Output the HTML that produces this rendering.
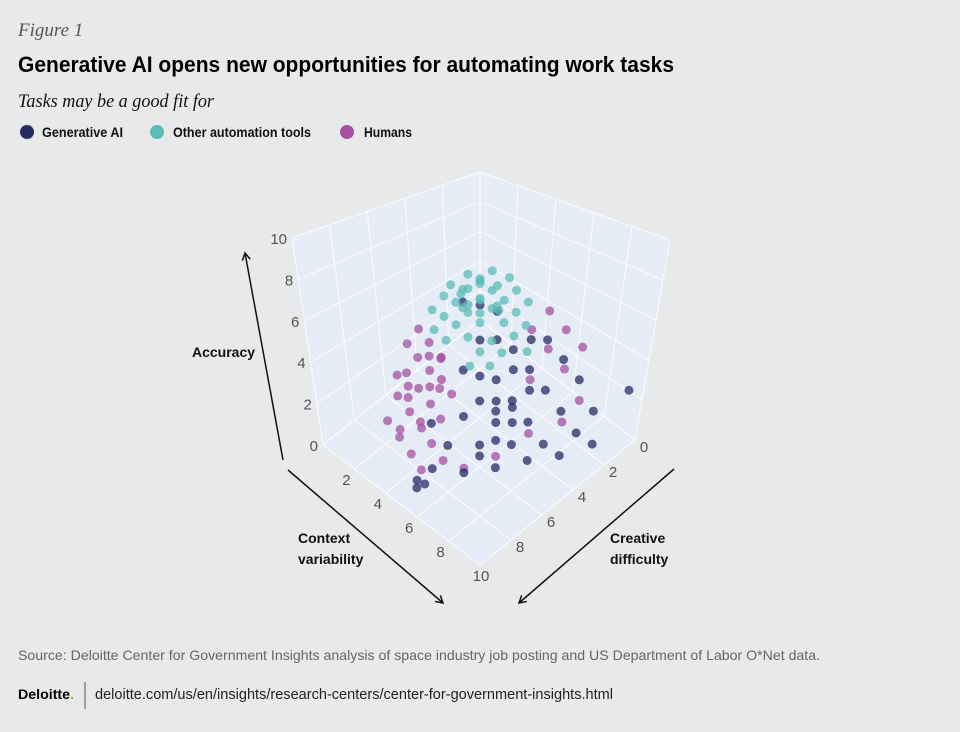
<!DOCTYPE html>
<html><head><meta charset="utf-8"><style>
html,body{margin:0;padding:0;background:#e8e9eb;}
svg{display:block;font-family:"Liberation Sans",sans-serif;}
</style></head><body>
<svg id="chart" width="960" height="732" viewBox="0 0 960 732" xmlns="http://www.w3.org/2000/svg">
<rect width="960" height="732" fill="#e8e9eb"/>
<text x="18" y="36" font-family="Liberation Serif,serif" font-style="italic" font-size="19" fill="#555">Figure 1</text>
<text x="18" y="72" font-weight="bold" font-size="22" fill="#000" textLength="656" lengthAdjust="spacingAndGlyphs">Generative AI opens new opportunities for automating work tasks</text>
<text x="18" y="107" font-family="Liberation Serif,serif" font-style="italic" font-size="19" fill="#111" textLength="196" lengthAdjust="spacingAndGlyphs">Tasks may be a good fit for</text>
<g>
<g><circle cx="27" cy="132" r="7" fill="#262b64"/><text x="42" y="137" font-weight="bold" font-size="13.5" fill="#111" textLength="81" lengthAdjust="spacingAndGlyphs">Generative AI</text></g>
<g><circle cx="157" cy="132" r="7" fill="#5bbcb7"/><text x="173" y="137" font-weight="bold" font-size="13.5" fill="#111" textLength="138" lengthAdjust="spacingAndGlyphs">Other automation tools</text></g>
<g><circle cx="347" cy="132" r="7" fill="#a351a0"/><text x="364" y="137" font-weight="bold" font-size="13.5" fill="#111" textLength="48" lengthAdjust="spacingAndGlyphs">Humans</text></g>
</g>
<g id="plot"></g>
<defs><marker id="ah" markerWidth="10" markerHeight="10" refX="8" refY="5" orient="auto" markerUnits="userSpaceOnUse"><path d="M1,1 L8,5 L1,9" fill="none" stroke="#111" stroke-width="1.5"/></marker></defs>
<line x1="283" y1="460" x2="245" y2="253" stroke="#111" stroke-width="1.5" marker-end="url(#ah)"/>
<line x1="288" y1="470" x2="443" y2="603" stroke="#111" stroke-width="1.5" marker-end="url(#ah)"/>
<line x1="674" y1="469" x2="519" y2="603" stroke="#111" stroke-width="1.5" marker-end="url(#ah)"/>
<text x="192" y="357" font-weight="bold" font-size="14" fill="#111">Accuracy</text>
<text font-weight="bold" font-size="14" fill="#111"><tspan x="298" y="543">Context</tspan><tspan x="298" y="564">variability</tspan></text>
<text font-weight="bold" font-size="14" fill="#111"><tspan x="610" y="543">Creative</tspan><tspan x="610" y="564">difficulty</tspan></text>
<text x="18" y="660" font-size="14" fill="#666" textLength="802" lengthAdjust="spacingAndGlyphs">Source: Deloitte Center for Government Insights analysis of space industry job posting and US Department of Labor O*Net data.</text>
<text x="18" y="699" font-weight="bold" font-size="14" fill="#000" textLength="56" lengthAdjust="spacingAndGlyphs">Deloitte<tspan fill="#86bc25">.</tspan></text>
<line x1="85" y1="682" x2="85" y2="709" stroke="#555" stroke-width="1"/>
<text x="95" y="699" font-size="14.5" fill="#222" textLength="518" lengthAdjust="spacingAndGlyphs">deloitte.com/us/en/insights/research-centers/center-for-government-insights.html</text>
</svg>
<script>
// data: [context variability, creative difficulty, accuracy]
const ticks = [0,2,4,6,8,10];
const tickLabels = ["0","2","4","6","8","10"];
const otherAutomation = [[3,3,5.2],[2.3,3,5.4],[3,2.3,5.3],[3.7,3,5.0],[3,3.7,4.8],[2.3,2.3,5.6],[2,3,5.2],[3,2,5.4],[3.7,2.3,5.1],[2.3,3.7,5.0],[4.4,3,4.6],[3,4.4,4.5],[3.7,3.7,4.6],[1.6,2.3,5.5],[2.3,1.6,5.7],[4.4,2.3,4.8],[2.3,4.4,4.6],[5,3,4.2],[3.7,4.4,4.2],[4.4,3.7,4.0],[1.6,3.7,5.0],[3.7,1.6,5.3],[3,3,4.4],[2.6,2.6,5.8],[3.4,3.4,5.5],[5,2.3,4.4],[1.6,4.4,4.6],[4.4,4.4,3.8],[5,3.7,3.7],[3,5,4.0],[2.3,3,4.5],[3.7,2.6,4.7],[1.3,3,5.1],[3,1.3,5.5],[4.4,1.6,5.0],[2,2,5.0],[5.8,3,3.8],[4,3,5.3],[3,4,5.2],[2.6,3.7,5.6],[5,4.4,3.4],[4.4,5,3.4],[2.3,5,4.2]];
const humans = [[3.3,6.3,3.3],[2.6,6.3,3.6],[3.3,7,2.8],[4,7,2.4],[2.6,7,3.2],[3.3,7.6,2],[4,7.6,1.6],[2.6,7.6,2.4],[4.6,7,2],[3.3,6.3,4],[2.6,5.6,4],[2,6.3,4],[4,6.3,3.2],[3.3,7,1.2],[4,8.3,0.8],[4.6,7.6,1.2],[2.6,7,2],[3.3,8.3,1.2],[2,7,2.8],[2.6,8.3,1.6],[4,7,3.2],[4.6,6.3,2.8],[3.3,5.6,3.6],[2,5.6,4.4],[2.6,7.6,0.8],[4.6,8.3,0.4],[5.3,7.6,0.8],[4,6.3,4.2],[3.3,7.6,3.2],[4.6,7,3.4],[7,2,5],[8,3,4],[7,3,4.5],[6,2,5.5],[8,2,4.6],[7,4,3.5],[9,4,2.5],[8,5,2],[6,3,5],[9,3,3],[7,6,1],[6,7,0.5]];
const generativeAI = [[6,4,2],[6,5,1.5],[7,4,1.5],[5,4,2.5],[6,3,3],[7,5,1],[5,5,2],[6,6,1],[7,3,2.5],[8,4,1],[5,3,3.5],[4,4,4],[5,4,4.5],[6,3,4.5],[4,3,5],[7,2,3.5],[8,3,2],[9,3,1.5],[9,4,1],[8,5,0.8],[6,6,0.5],[5,7,1],[6,7,0.3],[4,7,1.5],[5,6,1.8],[7,6,0.5],[6,4,3.5],[5,5,3.2],[7,4,3],[4,5,3],[3,4,5.5],[4,4,5.8],[6,2,4],[8,2,3],[10,3,1.5],[9,2,2],[10,1,3],[5,8,0.5],[5,9,0.2],[4.5,8.5,0],[5,8.5,0.1],[6,5,2.5],[7,5,2],[6.5,4.5,2.2],[5.5,4.5,1.5],[6.5,5.5,1.2]];

const NS="http://www.w3.org/2000/svg";
const C={b0:[480,320],l0:[323,445],r0:[635,440],f0:[480,565],b1:[480,172],l1:[292,238],r1:[670,240],f1:[480,290]};
function proj(cv,cd,acc){
  const u=cv/10,v=cd/10,w=acc/10;
  const bl=(k)=>[(1-u)*(1-v)*C['b'+k][0]+(1-u)*v*C['l'+k][0]+u*(1-v)*C['r'+k][0]+u*v*C['f'+k][0],
                 (1-u)*(1-v)*C['b'+k][1]+(1-u)*v*C['l'+k][1]+u*(1-v)*C['r'+k][1]+u*v*C['f'+k][1]];
  const a=bl(0),b=bl(1);
  return [a[0]*(1-w)+b[0]*w,a[1]*(1-w)+b[1]*w];
}
const plot=document.getElementById('plot');
function poly(pts,fill,name){
  const p=document.createElementNS(NS,'polygon');
  p.setAttribute('points',pts.map(q=>q.join(',')).join(' '));
  p.setAttribute('fill',fill);
  
  
  plot.appendChild(p);
}
function line(a,b,name){
  const l=document.createElementNS(NS,'line');
  l.setAttribute('x1',a[0]);l.setAttribute('y1',a[1]);l.setAttribute('x2',b[0]);l.setAttribute('y2',b[1]);
  l.setAttribute('stroke','#ffffff');l.setAttribute('stroke-width','1');l.setAttribute('stroke-opacity','0.8');
  
  
  plot.appendChild(l);
}
poly([proj(0,0,0),proj(0,10,0),proj(0,10,10),proj(0,0,10)],'#e5ecf6','left-wall');
poly([proj(0,0,0),proj(10,0,0),proj(10,0,10),proj(0,0,10)],'#e5ecf6','right-wall');
poly([proj(0,0,0),proj(0,10,0),proj(10,10,0),proj(10,0,0)],'#e5ecf6','floor');
ticks.forEach(t=>{
  line(proj(0,t,0),proj(0,t,10),'gridline');
  line(proj(0,0,t),proj(0,10,t),'gridline');
  line(proj(t,0,0),proj(t,0,10),'gridline');
  line(proj(0,0,t),proj(10,0,t),'gridline');
  line(proj(t,0,0),proj(t,10,0),'gridline');
  line(proj(0,t,0),proj(10,t,0),'gridline');
});
function label(p,txt,name,anchor){
  const t=document.createElementNS(NS,'text');
  t.setAttribute('x',p[0]);t.setAttribute('y',p[1]);
  t.setAttribute('font-size','15');t.setAttribute('fill','#555');
  t.setAttribute('text-anchor',anchor||'middle');
  t.textContent=txt;
  
  
  plot.appendChild(t);
}
ticks.forEach((t,i)=>{
  const a=proj(0,10,t); label([a[0]-5,a[1]+6],tickLabels[i],'accuracy-tick','end');
  if(t>0){const c=proj(t,10,0); label([c[0]-8+(t===10?9:0),c[1]+16],tickLabels[i],'context-variability-tick');}
  if(t<10){const d=proj(10,t,0); label([d[0]+9,d[1]+12],tickLabels[i],'creative-difficulty-tick');}
});
function series(data,color,name){
  const g=document.createElementNS(NS,'g');
  
  
  data.forEach(d=>{
    const p=proj(d[0],d[1],d[2]);
    const c=document.createElementNS(NS,'circle');
    c.setAttribute('cx',p[0]);c.setAttribute('cy',p[1]);c.setAttribute('r','4.5');
    c.setAttribute('fill',color);c.setAttribute('fill-opacity','0.75');
    
    
    g.appendChild(c);
  });
  plot.appendChild(g);
}
series(humans,'#a351a0','humans-series');
series(generativeAI,'#262b64','generative-ai-series');
series(otherAutomation,'#5bbcb7','other-automation-series');
</script>
</body></html>
